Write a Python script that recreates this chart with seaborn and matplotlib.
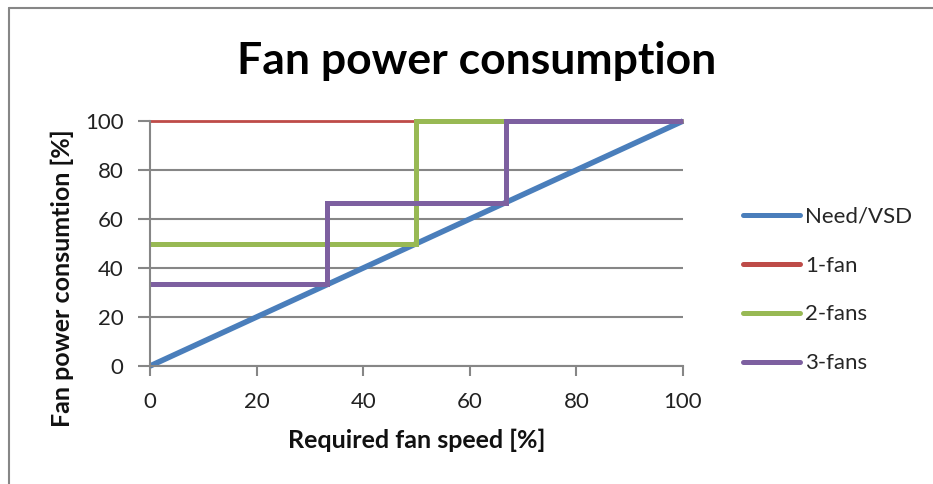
import matplotlib
matplotlib.use("Agg")
import matplotlib.pyplot as plt
from matplotlib.lines import Line2D
import seaborn as sns
import pandas as pd

# Series: required fan speed [%] vs. fan power consumption [%]
need_x = [0, 100]
need_y = [0, 100]
one_fan_x = [0, 100]
one_fan_y = [100, 100]
two_fans_x = [0, 50, 50, 100]
two_fans_y = [50, 50, 100, 100]
three_fans_x = [0, 33.3, 33.3, 66.7, 66.7, 100]
three_fans_y = [33.3, 33.3, 66.7, 66.7, 100, 100]

series_names = ["Need/VSD", "1-fan", "2-fans", "3-fans"]
series_colors = ["#4A7EBB", "#BE4B48", "#98B954", "#7D60A0"]
series_widths = [4.0, 2.0, 3.6, 3.6]

x_ticks = [0, 20, 40, 60, 80, 100]
y_ticks = [0, 20, 40, 60, 80, 100]

sns.set_theme(style="white")
plt.rcParams["font.family"] = ["Lato", "DejaVu Sans"]

fig = plt.figure(figsize=(9.33, 4.84), dpi=100)
ax = fig.add_axes([150 / 933, 118 / 484, 533 / 933, 245 / 484])

grey = "#868686"
data = [(need_x, need_y), (one_fan_x, one_fan_y),
        (two_fans_x, two_fans_y), (three_fans_x, three_fans_y)]
for (xs, ys), name, color, lw in zip(data, series_names, series_colors, series_widths):
    df = pd.DataFrame({"speed": xs, "power": ys})
    sns.lineplot(data=df, x="speed", y="power", ax=ax, color=color,
                 linewidth=lw, estimator=None, sort=False, clip_on=False,
                 solid_capstyle="butt", solid_joinstyle="miter")

ax.set_xlim(0, 100)
ax.set_ylim(0, 100)
ax.set_xticks(x_ticks)
ax.set_yticks(y_ticks)
ax.set_xticklabels([str(t) for t in x_ticks])
ax.set_yticklabels([str(t) for t in y_ticks])

ax.grid(axis="y", color=grey, linewidth=1.5)
ax.grid(axis="x", visible=False)
ax.set_axisbelow(True)
for side in ["top", "right"]:
    ax.spines[side].set_visible(False)
for side in ["left", "bottom"]:
    ax.spines[side].set_color(grey)
    ax.spines[side].set_linewidth(1.5)

ax.tick_params(axis="x", which="major", direction="out", length=7, width=1.5,
               color=grey, labelsize=16, pad=12, labelcolor="#222222", bottom=True)
ax.tick_params(axis="y", which="major", direction="out", length=9, width=1.5,
               color=grey, labelsize=16, pad=10, labelcolor="#222222", left=True)

ax.set_xlabel("Required fan speed [%]", fontsize=18, fontweight="bold", color="#111111")
ax.set_ylabel("Fan power consumtion [%]", fontsize=18, fontweight="bold", color="#111111")
ax.xaxis.set_label_coords(0.5, -0.305)
ax.yaxis.set_label_coords(-0.165, 0.36)
ax.xaxis.label.set_va("center")
ax.yaxis.label.set_va("center")

fig.text(477 / 933, 1 - 74 / 484, "Fan power consumption", ha="center",
         va="baseline", fontsize=32, fontweight="bold", color="#000000")

handles = [Line2D([0], [0], color=c, linewidth=3.6) for c in series_colors]
ax.legend(handles, series_names, loc="center left",
          bbox_to_anchor=(743 / 933, 1 - 290 / 484),
          bbox_transform=fig.transFigure, frameon=False, fontsize=16,
          handlelength=2.55, handletextpad=0.25, labelspacing=1.3,
          borderpad=0, borderaxespad=0)

# chart border (top and left edges)
fig.add_artist(Line2D([9 / 933, 9 / 933], [0, 1 - 8 / 484],
                      transform=fig.transFigure, color=grey, linewidth=1.5))
fig.add_artist(Line2D([9 / 933, 1], [1 - 8 / 484, 1 - 8 / 484],
                      transform=fig.transFigure, color=grey, linewidth=1.5))

fig.savefig("out.png", dpi=100)
